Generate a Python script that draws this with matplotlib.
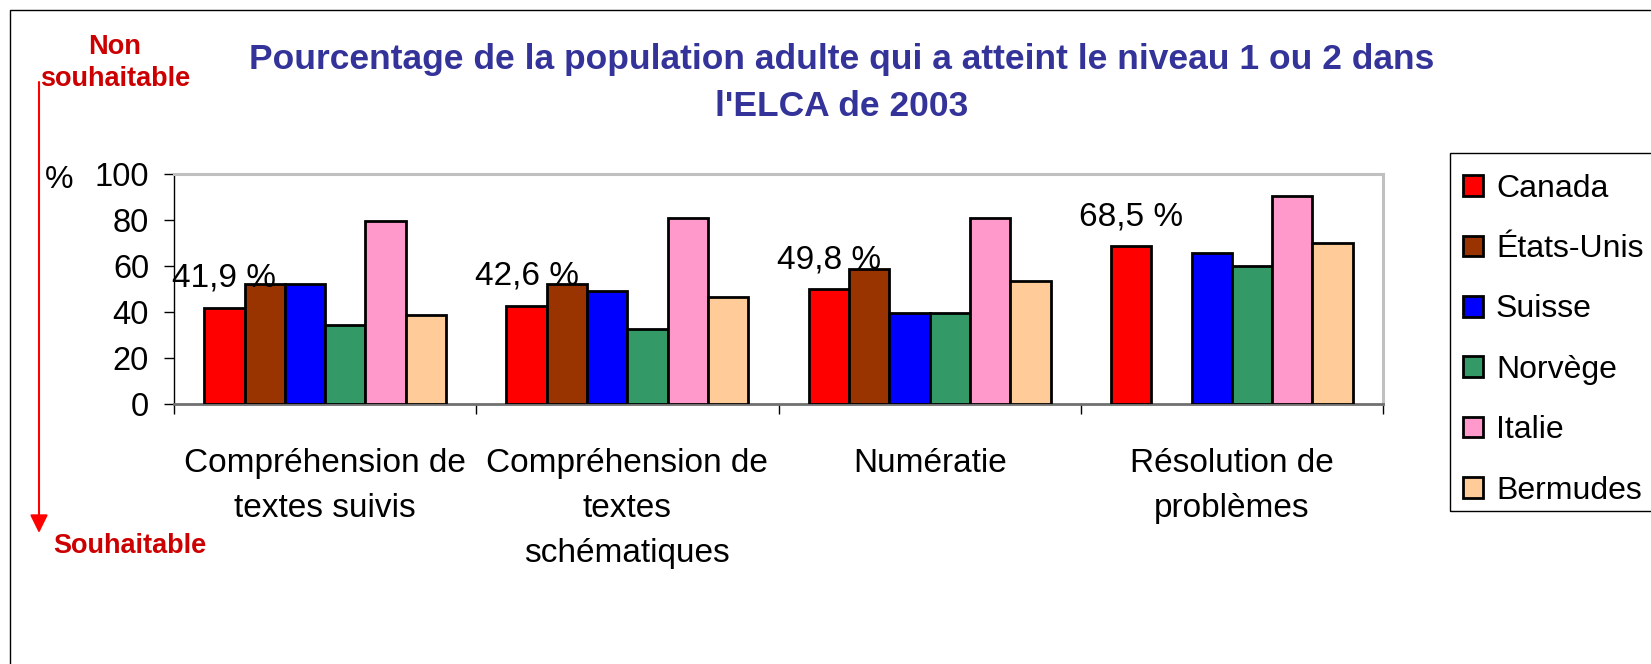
import matplotlib
matplotlib.use('Agg')
import matplotlib.pyplot as plt
import numpy as np
from matplotlib.patches import Patch, Rectangle

plt.rcParams['font.family'] = ['Liberation Sans', 'DejaVu Sans']

categories = ['Compréhension de\ntextes suivis', 'Compréhension de\ntextes\nschématiques',
              'Numératie', 'Résolution de\nproblèmes']
countries = ['Canada', 'États-Unis', 'Suisse', 'Norvège', 'Italie', 'Bermudes']
canada = [41.9, 42.6, 49.8, 68.5]
etats_unis = [52.2, 52.2, 58.9, np.nan]
suisse = [52.2, 49.3, 39.5, 65.7]
norvege = [34.4, 32.7, 39.5, 60.2]
italie = [79.5, 81.0, 80.8, 90.6]
bermudes = [38.5, 46.7, 53.4, 69.8]
canada_labels = ['41,9 %', '42,6 %', '49,8 %', '68,5 %']
colors = ['#FF0000', '#993300', '#0000FF', '#339966', '#FF99CC', '#FFCC99']

series = [canada, etats_unis, suisse, norvege, italie, bermudes]

W, H = 1651, 664
fig = plt.figure(figsize=(W / 100, H / 100), dpi=100)

def px(x, y):
    # pixel position (from top-left) -> figure fraction
    return x / W, 1 - y / H

ax = fig.add_axes([174 / W, 1 - 404 / H, 1209 / W, 230 / H])

x = np.arange(len(categories))
w = 0.8 / len(series)
for i, vals in enumerate(series):
    ax.bar(x + (i - 2.5) * w, vals, w, color=colors[i], edgecolor='black',
           linewidth=2, zorder=3)

for xi, v, lab in zip(x, canada, canada_labels):
    ax.text(xi - 2.5 * w, v + 13, lab, ha='center', va='center', fontsize=24)

ax.set_xlim(-0.5, 3.5)
ax.set_ylim(0, 100)
ax.set_yticks([0, 20, 40, 60, 80, 100])
ax.tick_params(axis='y', labelsize=23.5, length=7, width=1, pad=11)
ax.set_xticks(x)
ax.set_xticklabels(categories, fontsize=24, linespacing=1.57)
ax.tick_params(axis='x', which='major', length=0, pad=32)
ax.set_xticks(np.arange(-0.5, 4, 1), minor=True)
ax.tick_params(axis='x', which='minor', length=7, width=1)

ax.spines['top'].set_color('#C0C0C0')
ax.spines['top'].set_linewidth(2.2)
ax.spines['right'].set_color('#C0C0C0')
ax.spines['right'].set_linewidth(2.2)
ax.spines['bottom'].set_color('#707070')
ax.spines['bottom'].set_linewidth(2)
ax.spines['left'].set_color('black')
ax.spines['left'].set_linewidth(1)

# legend entries without frame, box drawn separately
handles = [Patch(facecolor=c, edgecolor='black', linewidth=2) for c in colors]
leg = fig.legend(handles, countries, loc='upper left', bbox_to_anchor=px(1450, 161),
                 fontsize=23, frameon=False, borderaxespad=0,
                 handlelength=0.62, handleheight=0.62, handletextpad=0.42,
                 labelspacing=0.95, borderpad=0.4)
fig.add_artist(Rectangle(px(1450, 511), 250 / W, 358 / H, transform=fig.transFigure,
                         fill=False, edgecolor='black', linewidth=1))

fig.text(*px(842, 83), "Pourcentage de la population adulte qui a atteint le niveau 1 ou 2 dans\nl'ELCA de 2003",
         ha='center', va='center', fontsize=25.5, fontweight='bold', color='#333399',
         linespacing=1.55)

fig.text(*px(115, 63), 'Non\nsouhaitable', ha='center', va='center', fontsize=19.5,
         fontweight='bold', color='#CC0000', linespacing=1.25)
fig.text(*px(130, 546), 'Souhaitable', ha='center', va='center', fontsize=19.5,
         fontweight='bold', color='#CC0000')
fig.text(*px(59, 180), '%', ha='center', va='center', fontsize=23)

ax.annotate('', xy=(39, H - 533), xytext=(39, H - 82), xycoords='figure pixels',
            textcoords='figure pixels',
            arrowprops=dict(arrowstyle='-|>,head_length=0.55,head_width=0.27',
                            mutation_scale=20, color='#FF0000', lw=1.5,
                            shrinkA=0, shrinkB=0))

fig.add_artist(Rectangle(px(9.5, 700), 1700 / W, 690 / H, transform=fig.transFigure,
                         fill=False, edgecolor='black', linewidth=1))

fig.savefig('out.png', dpi=100)
